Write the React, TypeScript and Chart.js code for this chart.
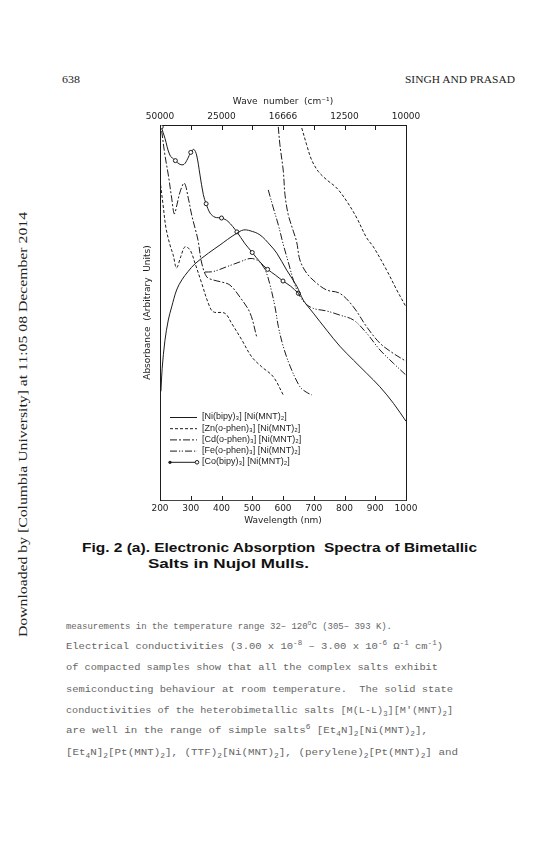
import React, { useEffect, useRef } from 'react';
import { Chart, registerables } from 'chart.js';

Chart.register(...registerables);

// ---------- data ----------
const wavelengthTicks = [200, 300, 400, 500, 600, 700, 800, 900, 1000];
const waveNumberTickNm = [200, 400, 600, 800, 1000];
const waveNumberLabels = ['50000', '25000', '16666', '12500', '10000'];

// [wavelength nm, absorbance (arbitrary units 0..100)]
const niBipy = [
  [203, 29], [207, 35], [216, 42.5], [227, 48], [238, 51.5], [254, 56], [271, 58.7], [292, 61],
  [314, 63], [357, 65.8], [395, 68], [420, 69.5], [449, 71.1], [471, 72], [493, 71.8], [525, 70.7],
  [558, 68], [580, 65.8], [612, 61.3], [645, 57], [666, 53.3], [699, 49.8], [742, 45.3], [785, 41],
  [829, 37.3], [872, 33.8], [915, 30.2], [959, 25.8], [1000, 21],
];

const znPhenUV = [
  [200, 85.3], [210, 78.7], [219.5, 72.5], [232.5, 68], [243, 65.3], [253.7, 61.9], [268, 65],
  [281, 67.5], [297.6, 66.7], [314, 63.1], [335.6, 57.8], [357, 52.5], [373, 50.2], [411, 49.8],
  [433, 47.1], [466, 42.7], [498, 38.2], [531, 35.5], [568, 32.9], [601, 28],
];
const znPhenVis = [
  [661, 99.2], [677, 94.7], [693, 90.7], [715, 87.6], [742, 85.4], [774.6, 83.2], [807, 79.7],
  [840, 75.2], [872, 69.9], [894, 67.5], [937, 61.3], [970, 56], [1000, 51.5],
];

const cdPhenUV = [
  [205.5, 98.4], [216, 92], [227, 86.7], [238, 80.5], [246.5, 76.3], [255, 78.7], [265, 82.1],
  [279, 84.5], [292, 80.5], [303, 76], [314, 72.5], [323.6, 69.3], [335.6, 63.2], [352, 59.5],
  [372, 58.7], [401.6, 58.1], [427.6, 57.3], [460, 54.1], [492.7, 49.9], [514.5, 43.5],
];
const cdPhenVis = [
  [584.7, 99.5], [590, 94.7], [601, 87.7], [606.5, 81.4], [617, 76.1], [633.5, 71.7], [644.5, 68.8],
  [655, 64], [677, 60.5], [709.6, 57.8], [742, 56], [785, 55.1], [829, 51.5], [872, 46.2],
  [915.4, 41.8], [958.7, 39.1], [1000, 37],
];

const fePhenUV = [
  [346, 60.8], [372, 60.9], [417, 62.2], [460, 63.5], [492.7, 64.4], [514.5, 64], [532, 62.7],
  [545, 60.8], [558, 57.3], [574, 51.5], [585, 46.2], [601, 40.9], [623, 35.7], [655, 30.2],
  [675, 28.8], [694, 28],
];
const fePhenVis = [
  [552, 82.7], [568.5, 77.9], [585, 73.3], [601, 68.1], [617, 63.5], [633.5, 58.7], [650, 55.1],
  [671.5, 52.5], [698.5, 51.1], [742, 50.4], [785, 49.3], [829, 48], [872, 44.5], [915.4, 40],
  [958.7, 36.5], [1000, 33.3],
];

const coBipy = [
  [204, 99.5], [216, 96.5], [232, 92], [250, 90.5], [265, 89.5], [278, 89.5], [290, 91], [300, 92.7],
  [310, 93.5], [319, 92], [330, 86.7], [341, 81.4], [350, 79], [363, 76.5], [379, 75.4], [400, 75.2],
  [421, 74.3], [450, 71.5], [475, 68.5], [500, 66], [525, 63.5], [550, 61.5], [575, 60], [600, 58.4],
  [625, 57], [650, 55.1],
];
const coMarkerNm = [204, 250, 300, 350, 400, 450, 500, 550, 600, 650];

const legendLabels = [
  '[Ni(bipy)\u2083] [Ni(MNT)\u2082]',
  '[Zn(o-phen)\u2083] [Ni(MNT)\u2082]',
  '[Cd(o-phen)\u2083] [Ni(MNT)\u2082]',
  '[Fe(o-phen)\u2083] [Ni(MNT)\u2082]',
  '[Co(bipy)\u2083] [Ni(MNT)\u2082]',
];

// ---------- page text ----------
type Piece = [string, number]; // 0 normal, 1 sup, -1 sub
const bodyLines: { pieces: Piece[]; y: number; x1: number }[] = [
  { pieces: [['measurements in the temperature range 32\u2013 120', 0], ['o', 1], ['C (305\u2013 393 K).', 0]], y: 629, x1: 392 },
  { pieces: [['Electrical conductivities (3.00 x 10', 0], ['-8', 1], [' \u2013 3.00 x 10', 0], ['-6', 1], [' \u03a9', 0], ['-1', 1], [' cm', 0], ['-1', 1], [')', 0]], y: 649, x1: 443 },
  { pieces: [['of compacted samples show that all the complex salts exhibit', 0]], y: 670, x1: 438 },
  { pieces: [['semiconducting behaviour at room temperature.  The solid state', 0]], y: 692, x1: 453 },
  { pieces: [['conductivities of the heterobimetallic salts [M(L-L)', 0], ['3', -1], ['][M\'(MNT)', 0], ['2', -1], [']', 0]], y: 713, x1: 453 },
  { pieces: [['are well in the range of simple salts', 0], ['6', 1], [' [Et', 0], ['4', -1], ['N]', 0], ['2', -1], ['[Ni(MNT)', 0], ['2', -1], ['],', 0]], y: 733, x1: 428 },
  { pieces: [['[Et', 0], ['4', -1], ['N]', 0], ['2', -1], ['[Pt(MNT)', 0], ['2', -1], ['], (TTF)', 0], ['2', -1], ['[Ni(MNT)', 0], ['2', -1], ['], (perylene)', 0], ['2', -1], ['[Pt(MNT)', 0], ['2', -1], ['] and', 0]], y: 755, x1: 458 },
];

function renderPieces(pieces: Piece[], shift: number) {
  let cur = 0;
  return pieces.map(([t, k], i) => {
    const target = k === 1 ? -shift : k === -1 ? shift * 0.7 : 0;
    const dy = target - cur;
    cur = target;
    return (
      <tspan key={i} dy={dy} fontSize={k === 0 ? undefined : '0.72em'}>
        {t}
      </tspan>
    );
  });
}

// ---------- chart helpers ----------
function toPoints(...segs: number[][][]) {
  const out: { x: number; y: number | null }[] = [];
  segs.forEach((s, i) => {
    if (i > 0) out.push({ x: s[0][0], y: null });
    s.forEach(([x, y]) => out.push({ x, y }));
  });
  return out;
}

const INK = '#1c1c1c';
const axisFont = { family: "'DejaVu Sans', sans-serif", size: 9 };

const tickMarksPlugin = {
  id: 'inwardTicks',
  afterDraw(chart: any) {
    const { ctx, chartArea, scales } = chart;
    ctx.save();
    ctx.strokeStyle = INK;
    ctx.lineWidth = 1;
    ctx.setLineDash([]);
    for (const v of wavelengthTicks) {
      const xb = Math.round(scales.x.getPixelForValue(v)) + 0.5;
      ctx.beginPath();
      ctx.moveTo(xb, chartArea.bottom);
      ctx.lineTo(xb, chartArea.bottom - 4);
      ctx.stroke();
      const xt = Math.round(scales.x2.getPixelForValue(v)) + 0.5;
      ctx.beginPath();
      ctx.moveTo(xt, chartArea.top);
      ctx.lineTo(xt, chartArea.top + 5);
      ctx.stroke();
    }
    ctx.restore();
  },
};

const legendPlugin = {
  id: 'inlineLegend',
  afterDatasetsDraw(chart: any) {
    const { ctx, chartArea } = chart;
    const dsets = chart.data.datasets;
    ctx.save();
    ctx.font = "9px 'Liberation Sans', 'DejaVu Sans', sans-serif";
    ctx.textBaseline = 'middle';
    ctx.fillStyle = INK;
    legendLabels.forEach((label, i) => {
      const y = chartArea.bottom - 83 + i * 11.2;
      const x0 = chartArea.left + 10;
      const x1 = chartArea.left + 37;
      const ds = dsets[i];
      ctx.strokeStyle = INK;
      ctx.lineWidth = 1;
      ctx.setLineDash(ds.borderDash || []);
      ctx.beginPath();
      ctx.moveTo(x0, y + 0.5);
      ctx.lineTo(x1, y + 0.5);
      ctx.stroke();
      ctx.setLineDash([]);
      if (i === 4) {
        ctx.beginPath();
        ctx.arc(x0, y + 0.5, 1.6, 0, Math.PI * 2);
        ctx.fill();
        ctx.beginPath();
        ctx.fillStyle = '#fff';
        ctx.arc(x1, y + 0.5, 1.8, 0, Math.PI * 2);
        ctx.fill();
        ctx.stroke();
        ctx.fillStyle = INK;
      }
      ctx.fillText(label, x1 + 5, y);
    });
    ctx.restore();
  },
};

function ChartCanvas() {
  const ref = useRef<HTMLCanvasElement | null>(null);
  useEffect(() => {
    if (!ref.current) return;
    const base = {
      borderColor: INK,
      borderWidth: 1,
      pointRadius: 0,
      tension: 0.35,
      fill: false,
      spanGaps: false,
      xAxisID: 'x',
      yAxisID: 'y',
    };
    const chart = new Chart(ref.current, {
      type: 'line',
      data: {
        datasets: [
          { ...base, label: legendLabels[0], data: toPoints(niBipy), borderDash: [] },
          { ...base, label: legendLabels[1], data: toPoints(znPhenUV, znPhenVis), borderDash: [3, 2] },
          { ...base, label: legendLabels[2], data: toPoints(cdPhenUV, cdPhenVis), borderDash: [7, 2, 2, 2] },
          { ...base, label: legendLabels[3], data: toPoints(fePhenUV, fePhenVis), borderDash: [7, 2, 1.2, 1.6, 1.2, 2] },
          {
            ...base,
            label: legendLabels[4],
            data: toPoints(coBipy),
            borderDash: [],
            pointRadius: (c: any) => (c.raw && coMarkerNm.includes(c.raw.x) ? 2 : 0),
            pointBackgroundColor: '#fff',
            pointBorderColor: INK,
            pointBorderWidth: 1,
          },
        ] as any,
      },
      options: {
        animation: false,
        responsive: false,
        layout: { padding: { left: 38, right: 0, top: 0, bottom: 0 } },
        plugins: { legend: { display: false }, tooltip: { enabled: false } },
        scales: {
          x: {
            type: 'linear',
            position: 'bottom',
            min: 200,
            max: 1000,
            afterBuildTicks: (s: any) => {
              s.ticks = wavelengthTicks.map((v) => ({ value: v }));
            },
            ticks: { autoSkip: false, maxRotation: 0, color: INK, font: axisFont, padding: 3, callback: (v: any) => String(v) },
            grid: { display: false, drawTicks: false },
            border: { display: true, color: '#444', width: 1 },
            title: { display: true, text: 'Wavelength (nm)', color: INK, font: axisFont, padding: { top: 2, bottom: 4 } },
            afterFit: (s: any) => {
              s.height = 30;
            },
          },
          x2: {
            type: 'linear',
            position: 'top',
            min: 200,
            max: 1000,
            afterBuildTicks: (s: any) => {
              s.ticks = wavelengthTicks.map((v) => ({ value: v }));
            },
            ticks: {
              autoSkip: false,
              maxRotation: 0,
              color: INK,
              font: axisFont,
              padding: 3,
              callback: (v: any) => {
                const i = waveNumberTickNm.indexOf(Number(v));
                return i >= 0 ? waveNumberLabels[i] : '';
              },
            },
            grid: { display: false, drawTicks: false },
            border: { display: true, color: INK, width: 1 },
            title: { display: true, text: 'Wave  number  (cm\u207B\u00B9)', color: INK, font: axisFont, padding: { top: 4, bottom: 2 } },
            afterFit: (s: any) => {
              s.height = 33;
            },
          },
          y: {
            position: 'left',
            min: 0,
            max: 100,
            ticks: { display: false },
            grid: { display: false, drawTicks: false },
            border: { display: true, color: INK, width: 1 },
            title: { display: true, text: 'Absorbance  (Arbitrary  Units)', color: INK, font: axisFont, padding: { top: 4, bottom: 4 } },
            afterFit: (s: any) => {
              s.width = 22;
            },
          },
          y2: {
            position: 'right',
            min: 0,
            max: 100,
            ticks: { display: false },
            grid: { display: false, drawTicks: false },
            border: { display: true, color: INK, width: 1, dash: [7, 4] },
            afterFit: (s: any) => {
              s.width = 24;
            },
          },
        },
      } as any,
      plugins: [tickMarksPlugin, legendPlugin],
    });
    return () => chart.destroy();
  }, []);
  return <canvas ref={ref} width={330} height={438} style={{ position: 'absolute', left: 100, top: 92, width: 330, height: 438 }} />;
}

export default function App() {
  return (
    <div style={{ position: 'absolute', left: 0, top: 0, width: 552, height: 868, background: '#fff', overflow: 'hidden' }}>
      <svg width={552} height={868} style={{ position: 'absolute', left: 0, top: 0 }}>
        <g fill="#222" fontFamily="'Liberation Serif', serif">
          <text x={62} y={83} fontSize={9.5} textLength={18} lengthAdjust="spacingAndGlyphs">638</text>
          <text x={405} y={83} fontSize={9.5} textLength={110} lengthAdjust="spacingAndGlyphs">SINGH AND PRASAD</text>
          <text
            x={0}
            y={0}
            fontSize={13}
            transform="translate(27 637) rotate(-90)"
            textLength={425}
            lengthAdjust="spacingAndGlyphs"
          >
            Downloaded by [Columbia University] at 11:05 08 December 2014
          </text>
        </g>
        <g fill="#111" fontFamily="'Liberation Sans', sans-serif" fontWeight="bold" fontSize={12.5}>
          <text x={82} y={552} textLength={395} lengthAdjust="spacingAndGlyphs" style={{ whiteSpace: 'pre' }}>
            Fig. 2 (a). Electronic Absorption  Spectra of Bimetallic
          </text>
          <text x={148} y={568} textLength={161} lengthAdjust="spacingAndGlyphs" style={{ whiteSpace: 'pre' }}>
            Salts in Nujol Mulls.
          </text>
        </g>
        <g fill="#666" fontFamily="'Liberation Mono', monospace" fontSize={9.5}>
          {bodyLines.map((l, i) => (
            <text key={i} x={66} y={l.y} textLength={l.x1 - 66} lengthAdjust="spacingAndGlyphs" style={{ whiteSpace: 'pre' }}>
              {renderPieces(l.pieces, 4)}
            </text>
          ))}
        </g>
      </svg>
      <ChartCanvas />
    </div>
  );
}
